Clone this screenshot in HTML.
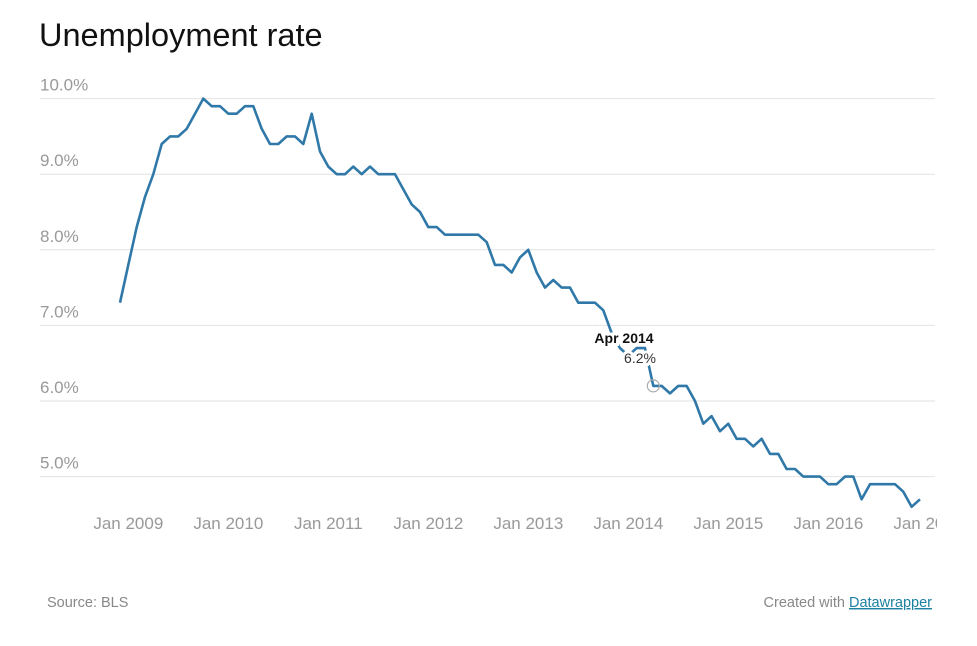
<!DOCTYPE html>
<html><head><meta charset="utf-8"><style>
html,body{margin:0;padding:0;background:#fff;width:977px;height:646px;overflow:hidden;font-family:"Liberation Sans",sans-serif;}
svg{display:block}
</style></head><body>
<svg id="chart" width="977" height="646">
<defs><clipPath id="clip"><rect x="0" y="0" width="937" height="646"/></clipPath></defs>
<text x="39" y="46" font-size="32.5" fill="#111">Unemployment rate</text>
<g id="grid"></g>
<g id="xaxis" clip-path="url(#clip)"></g>
<g id="series"></g>
<g id="annot"></g>
<text x="47" y="607" font-size="14.5" fill="#888">Source: BLS</text>
<text x="932" y="607" font-size="14.5" fill="#888" text-anchor="end">Created with <tspan fill="#1d81a2" text-decoration="underline">Datawrapper</tspan></text>
</svg>
<script>
const yTicks=[10,9,8,7,6,5];
const yTickLabels=["10.0%","9.0%","8.0%","7.0%","6.0%","5.0%"];
const xTickMonths=[1,13,25,37,49,61,73,85,97];
const xTickLabels=["Jan 2009","Jan 2010","Jan 2011","Jan 2012","Jan 2013","Jan 2014","Jan 2015","Jan 2016","Jan 2017"];
const rates=[7.3,
7.8,8.3,8.7,9.0,9.4,9.5,9.5,9.6,9.8,10.0,9.9,9.9,
9.8,9.8,9.9,9.9,9.6,9.4,9.4,9.5,9.5,9.4,9.8,9.3,
9.1,9.0,9.0,9.1,9.0,9.1,9.0,9.0,9.0,8.8,8.6,8.5,
8.3,8.3,8.2,8.2,8.2,8.2,8.2,8.1,7.8,7.8,7.7,7.9,
8.0,7.7,7.5,7.6,7.5,7.5,7.3,7.3,7.3,7.2,6.9,6.7,
6.6,6.7,6.7,6.2,6.2,6.1,6.2,6.2,6.0,5.7,5.8,5.6,
5.7,5.5,5.5,5.4,5.5,5.3,5.3,5.1,5.1,5.0,5.0,5.0,
4.9,4.9,5.0,5.0,4.7,4.9,4.9,4.9,4.9,4.8,4.6,4.7];
const annotIndex=64, annotLabel="Apr 2014", annotValue="6.2%";
const NS="http://www.w3.org/2000/svg";
const X=i=>120+i*8.333;
const Y=v=>401-(v-6)*75.6;
function mk(tag,attrs,parent){const e=document.createElementNS(NS,tag);for(const k in attrs)e.setAttribute(k,attrs[k]);parent.appendChild(e);return e;}
const grid=document.getElementById('grid');
yTicks.forEach((t,i)=>{
 const l=mk('line',{x1:40,x2:935,y1:Y(t),y2:Y(t),stroke:'#e2e2e2','stroke-width':1},grid);
 
 
 const tx=mk('text',{x:40,y:Y(t)-8,'font-size':17,fill:'#999'},grid);
 tx.textContent=yTickLabels[i];
 
 
});
const xa=document.getElementById('xaxis');
xTickMonths.forEach((m,i)=>{
 const tx=mk('text',{x:X(m),y:529,'font-size':17,fill:'#999','text-anchor':'middle'},xa);
 tx.textContent=xTickLabels[i];
 
 
});
const pts=rates.map((v,i)=>X(i).toFixed(1)+','+Y(v).toFixed(1)).join(' ');
const pl=mk('polyline',{points:pts,fill:'none',stroke:'#2f78a8','stroke-width':2.6,'stroke-linejoin':'round'},document.getElementById('series'));


const an=document.getElementById('annot');
const ax=X(annotIndex), ay=Y(rates[annotIndex]);
const c=mk('circle',{cx:ax,cy:ay,r:6,fill:'none',stroke:'#aaa','stroke-width':1.2},an);


const t1=mk('text',{x:624,y:343,'font-size':14,'font-weight':'bold',fill:'#111','text-anchor':'middle',stroke:'#fff','stroke-width':6,'paint-order':'stroke'},an);
t1.textContent=annotLabel;


const t2=mk('text',{x:640,y:363,'font-size':14,fill:'#333','text-anchor':'middle',stroke:'#fff','stroke-width':6,'paint-order':'stroke'},an);
t2.textContent=annotValue;


</script>
</body></html>
